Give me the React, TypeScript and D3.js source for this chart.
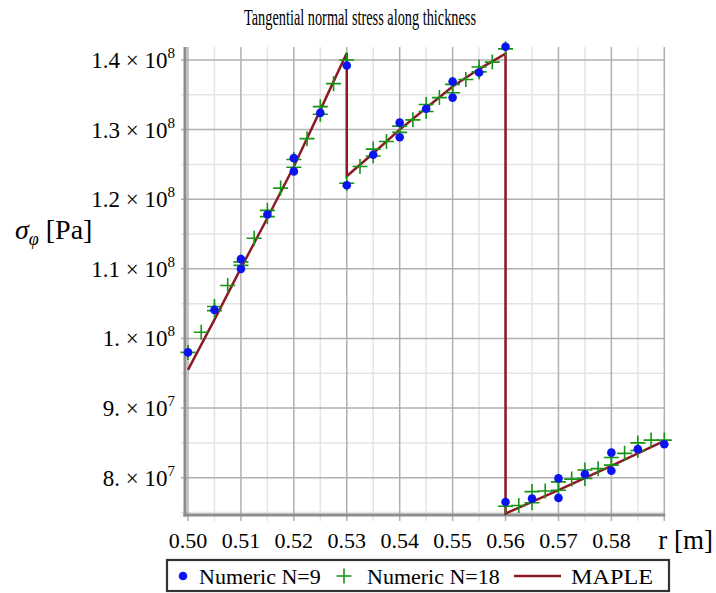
import React, { useRef, useEffect } from 'react';
import * as d3 from 'd3';

// Numeric N=9 (blue dots), r in m, stress in 1e8 Pa
const r9 = [0.50, 0.505, 0.51, 0.51, 0.515, 0.52, 0.52, 0.525, 0.53, 0.53, 0.535, 0.54, 0.54, 0.545, 0.55, 0.55, 0.555, 0.56, 0.56, 0.565, 0.57, 0.57, 0.575, 0.58, 0.58, 0.585, 0.59];
const s9 = [0.980, 1.041, 1.114, 1.100, 1.178, 1.259, 1.240, 1.324, 1.392, 1.220, 1.264, 1.310, 1.289, 1.330, 1.369, 1.346, 1.382, 1.419, 0.765, 0.770, 0.799, 0.771, 0.805, 0.836, 0.810, 0.841, 0.848];

// Numeric N=18 (green crosses)
const r18 = [0.50, 0.5025, 0.505, 0.505, 0.5075, 0.51, 0.51, 0.5125, 0.515, 0.515, 0.5175, 0.52, 0.52, 0.5225, 0.525, 0.525, 0.5275, 0.53, 0.53, 0.5325, 0.535, 0.535, 0.5375, 0.54, 0.54, 0.5425, 0.545, 0.545, 0.5475, 0.55, 0.55, 0.5525, 0.555, 0.555, 0.5575, 0.56, 0.56, 0.5625, 0.565, 0.565, 0.5675, 0.57, 0.57, 0.5725, 0.575, 0.575, 0.5775, 0.58, 0.58, 0.5825, 0.585, 0.585, 0.5875, 0.59];
const s18 = [0.980, 1.009, 1.046, 1.040, 1.076, 1.110, 1.105, 1.144, 1.184, 1.175, 1.216, 1.257, 1.246, 1.287, 1.333, 1.322, 1.366, 1.400, 1.223, 1.247, 1.272, 1.262, 1.283, 1.305, 1.296, 1.314, 1.336, 1.326, 1.346, 1.365, 1.353, 1.372, 1.390, 1.383, 1.397, 1.416, 0.759, 0.760, 0.780, 0.764, 0.781, 0.794, 0.782, 0.798, 0.811, 0.799, 0.813, 0.829, 0.818, 0.835, 0.850, 0.839, 0.854, 0.854];

// MAPLE analytic solution
const rMaple = [0.50, 0.505, 0.51, 0.515, 0.52, 0.525, 0.53, 0.53, 0.535, 0.54, 0.545, 0.55, 0.555, 0.56, 0.56, 0.57, 0.58, 0.59];
const sMaple = [0.955, 1.027, 1.101, 1.173, 1.247, 1.328, 1.410, 1.233, 1.266, 1.300, 1.331, 1.362, 1.387, 1.409, 0.7485, 0.782, 0.817, 0.853];

const xTicks = ['0.50', '0.51', '0.52', '0.53', '0.54', '0.55', '0.56', '0.57', '0.58'];
const yTickMant = ['8.', '9.', '1.', '1.1', '1.2', '1.3', '1.4'];
const yTickExp = ['7', '7', '8', '8', '8', '8', '8'];
const yTickVals = [0.8, 0.9, 1.0, 1.1, 1.2, 1.3, 1.4];

const FONT = '"Liberation Serif", "Times New Roman", serif';
const BLUE = '#0a14f0';
const GREEN = '#159415';
const MAROON = '#8b1a24';

function App() {
  const ref = useRef(null);

  useEffect(() => {
    const svg = d3.select(ref.current);
    svg.selectAll('*').remove();

    const left = 185, right = 664.3, top = 47, bottom = 515;
    const x = d3.scaleLinear().domain([0.50, 0.59]).range([188, 664.3]);
    const y = d3.scaleLinear().domain([0.8, 1.4]).range([477.7, 60]);

    // title (Maple renders it condensed)
    svg.append('text')
      .attr('x', 244).attr('y', 25)
      .attr('textLength', 232).attr('lengthAdjust', 'spacingAndGlyphs')
      .style('font-family', FONT).style('font-size', '23px')
      .text('Tangential normal stress along thickness');

    // grid
    const grid = svg.append('g');
    const minorX = d3.range(10).map(i => 0.505 + i * 0.01).filter(v => v < 0.59);
    const majorX = d3.range(10).map(i => 0.50 + i * 0.01);
    const minorY = d3.range(14).map(i => 0.75 + i * 0.1).filter(v => v < 1.41);
    const majorY = yTickVals;

    grid.selectAll('.mx').data(minorX).enter().append('line')
      .attr('x1', d => x(d)).attr('x2', d => x(d))
      .attr('y1', top).attr('y2', bottom + 6)
      .attr('stroke', '#e4e4e4').attr('stroke-width', 1.5);
    grid.selectAll('.my').data(minorY).enter().append('line')
      .attr('x1', left - 4).attr('x2', right)
      .attr('y1', d => y(d)).attr('y2', d => y(d))
      .attr('stroke', '#e4e4e4').attr('stroke-width', 1.5);
    grid.selectAll('.Mx').data(majorX).enter().append('line')
      .attr('x1', d => x(d)).attr('x2', d => x(d))
      .attr('y1', top).attr('y2', bottom + 6)
      .attr('stroke', '#b0b0b0').attr('stroke-width', 1.5);
    grid.selectAll('.My').data(majorY).enter().append('line')
      .attr('x1', left - 4).attr('x2', right)
      .attr('y1', d => y(d)).attr('y2', d => y(d))
      .attr('stroke', '#b0b0b0').attr('stroke-width', 1.5);

    // axes
    svg.append('line').attr('x1', left).attr('x2', left).attr('y1', top).attr('y2', bottom + 1.5)
      .attr('stroke', '#8c8c8c').attr('stroke-width', 3);
    svg.append('line').attr('x1', left - 1.5).attr('x2', right + 1).attr('y1', bottom).attr('y2', bottom)
      .attr('stroke', '#8c8c8c').attr('stroke-width', 3);

    // x tick labels
    svg.append('g').selectAll('text').data(xTicks).enter().append('text')
      .attr('x', d => x(+d)).attr('y', 548)
      .attr('text-anchor', 'middle')
      .style('font-family', FONT).style('font-size', '22px')
      .text(d => d);

    // y tick labels: mantissa × 10^exp
    const yl = svg.append('g').selectAll('text').data(yTickVals).enter().append('text')
      .attr('x', 175).attr('y', d => y(d) + 8)
      .attr('text-anchor', 'end')
      .style('font-family', FONT).style('font-size', '23px');
    yl.append('tspan').text((d, i) => `${yTickMant[i]} \u00d7 10`);
    yl.append('tspan').attr('dy', -10).style('font-size', '15px').text((d, i) => yTickExp[i]);

    // axis titles
    const ylab = svg.append('text').attr('x', 15).attr('y', 239)
      .style('font-family', FONT).style('font-size', '28px');
    ylab.append('tspan').style('font-style', 'italic').text('\u03c3');
    ylab.append('tspan').attr('dy', 6).style('font-style', 'italic').style('font-size', '18px').text('\u03c6');
    ylab.append('tspan').attr('dy', -6).text(' [Pa]');

    svg.append('text').attr('x', 713).attr('y', 549)
      .attr('text-anchor', 'end')
      .style('font-family', FONT).style('font-size', '27px')
      .text('r [m]');

    // MAPLE line
    const line = d3.line().x(d => x(d[0])).y(d => y(d[1]));
    svg.append('path')
      .datum(rMaple.map((r, i) => [r, sMaple[i]]))
      .attr('d', line)
      .attr('fill', 'none').attr('stroke', MAROON).attr('stroke-width', 2.5);

    // N=18 crosses
    const cs = 7.5;
    const cross = svg.append('g').attr('stroke', GREEN).attr('stroke-width', 1.6);
    r18.forEach((r, i) => {
      const cx = x(r), cy = y(s18[i]);
      cross.append('path').attr('d', `M${cx - cs},${cy}H${cx + cs}M${cx},${cy - cs}V${cy + cs}`);
    });

    // N=9 dots
    svg.append('g').selectAll('circle').data(r9).enter().append('circle')
      .attr('cx', d => x(d)).attr('cy', (d, i) => y(s9[i]))
      .attr('r', 4.3).attr('fill', BLUE);

    // legend
    const lg = svg.append('g');
    const ly = 576;
    lg.append('rect')
      .attr('x', 167).attr('y', 560).attr('width', 502).attr('height', 31)
      .attr('fill', 'white').attr('stroke', '#333').attr('stroke-width', 2.2);
    const lf = (t, xx) => lg.append('text').attr('x', xx).attr('y', 584)
      .style('font-family', FONT).style('font-size', '22px').text(t);
    lg.append('circle').attr('cx', 183).attr('cy', ly).attr('r', 4.3).attr('fill', BLUE);
    lf('Numeric N=9', 199);
    const px = 344;
    lg.append('path').attr('d', `M${px - cs},${ly}H${px + cs}M${px},${ly - cs}V${ly + cs}`)
      .attr('stroke', GREEN).attr('stroke-width', 1.6);
    lf('Numeric N=18', 367);
    lg.append('line').attr('x1', 514).attr('x2', 561).attr('y1', ly).attr('y2', ly)
      .attr('stroke', MAROON).attr('stroke-width', 2.5);
    lf('MAPLE', 571).attr('textLength', 82).attr('lengthAdjust', 'spacingAndGlyphs');
  }, []);

  return (
    <svg ref={ref} width={716} height={593}
      style={{ position: 'absolute', left: 0, top: 0, background: 'white' }} />
  );
}

export default App;
